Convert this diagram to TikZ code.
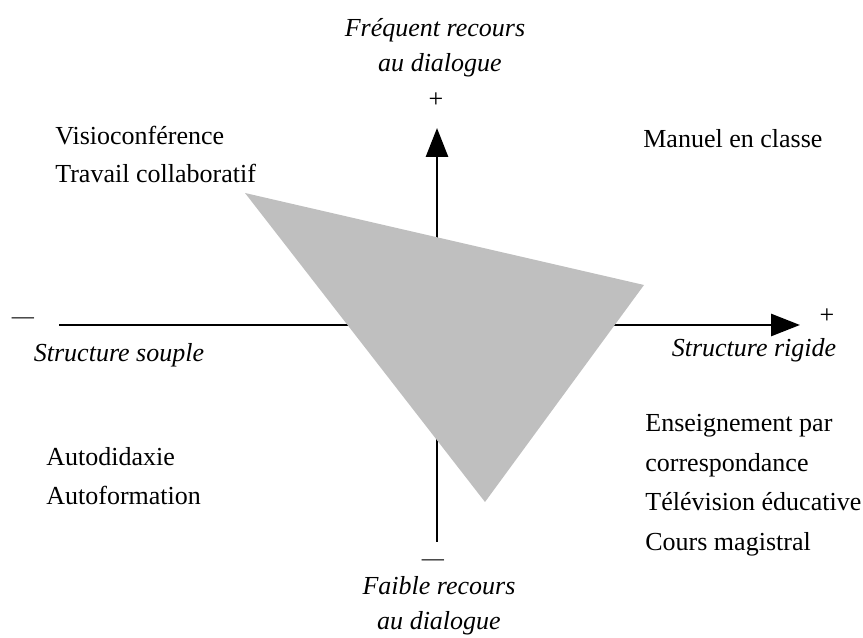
\documentclass[tikz,border=0pt]{standalone}
\usepackage{fontspec}
\setmainfont{Liberation Serif}
\usepackage{tikz}
\usetikzlibrary{arrows.meta}
\definecolor{zone}{HTML}{BFBFBF}

\begin{document}
\begin{tikzpicture}[
		every node/.style={font=\fontsize{14.8}{18}\selectfont,inner sep=0pt},
		axe/.style={line width=1.6pt,-{Triangle[length=5.8mm,width=4.4mm]}},
		item/.style={anchor=base west},
		titre/.style={anchor=base,font=\fontsize{14.8}{18}\selectfont\itshape},
		signe/.style={font=\fontsize{12.6}{14}\selectfont}
	]
	\useasboundingbox (0,0) rectangle (17.26,12.76);
	% axes
	\coordinate (gauche) at (1.18,6.26);
	\coordinate (droite) at (16.00,6.26);
	\coordinate (bas) at (8.74,1.92);
	\coordinate (haut) at (8.74,10.20);
	\draw[axe] (gauche) -- (droite);
	\draw[axe] (bas) -- (haut);
	% zone grise
	\fill[zone] (4.90,8.90) -- (12.88,7.06) -- (9.70,2.72) -- cycle;
	% signes
	\node[signe] (moinsG) at (0.46,6.34) {\textemdash};
	\node[signe] (moinsB) at (8.66,1.50) {\textemdash};
	\node (plusD) at (16.54,6.44) {+};
	\node (plusH) at (8.72,10.76) {+};
	% titres des axes
	\node[titre] (souple) at (2.38,5.52) {Structure souple};
	\node[titre] (rigide) at (15.08,5.62) {Structure rigide};
	\node[titre] (freq1) at (8.70,12.02) {Fréquent recours};
	\node[titre] (freq2) at (8.80,11.32) {au dialogue};
	\node[titre] (faib1) at (8.78,0.86) {Faible recours};
	\node[titre] (faib2) at (8.78,0.16) {au dialogue};
	% exemples
	\foreach \t [count=\k] in {Visioconférence,Travail collaboratif}{
		\node[item] (hg\k) at (1.10,10.62-0.76*\k) {\t};
	}
	\node[item] (hd1) at (12.86,9.80) {Manuel en classe};
	\foreach \t [count=\k] in {Autodidaxie,Autoformation}{
		\node[item] (bg\k) at (0.92,4.22-0.78*\k) {\t};
	}
	\foreach \t [count=\k] in {Enseignement par,correspondance,Télévision éducative,Cours magistral}{
		\node[item] (bd\k) at (12.90,4.907-0.787*\k) {\t};
	}
\end{tikzpicture}
\end{document}
